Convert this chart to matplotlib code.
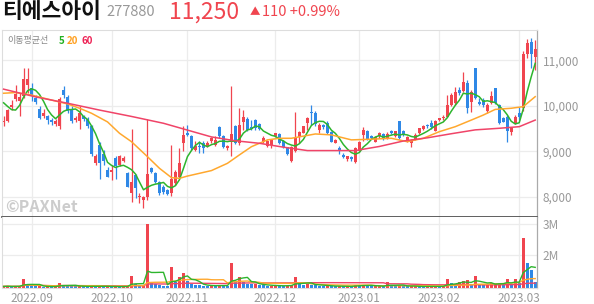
import numpy as np
import pandas as pd
import matplotlib
matplotlib.use("Agg")
import matplotlib.pyplot as plt

plt.rcParams['font.family'] = ['Noto Sans CJK KR', 'DejaVu Sans']

# daily candles, 2022-08-23 .. 2023-03-08 (index = trading day)
opens = [9640, 9660, 9980, 10150, 10100, 10210, 10460, 10400, 10180, 9930,
         9770, 9780, 9700, 9600, 9560, 10350, 10200, 9920, 9690, 9660,
         9780, 9720, 9560, 8740, 9140, 8940, 8590, 8540, 8850, 8700,
         8800, 8520, 8080, 8480, 7990, 7935, 8010, 8630, 8535, 8330,
         8220, 8150, 8080, 8300, 8450, 9180, 9410, 9330, 9030, 9110,
         9180, 9120, 9220, 9150, 9546, 9340, 9070, 9216, 9560, 9195,
         9656, 9708, 9532, 9693, 9605, 9216, 9120, 9140, 9340, 9385,
         9238, 9092, 8800, 9000, 9312, 9414, 9620, 9876, 9840, 9473,
         9580, 9635, 9436, 9195, 9070, 8923, 8828, 8870, 8777, 9018,
         9363, 9458, 9340, 9216, 9330, 9380, 9290, 9450, 9330, 9660,
         9440, 9220, 9180, 9270, 9400, 9490, 9580, 9620, 9460, 9690,
         9740, 9766, 10022, 10059, 10352, 10338, 10499, 10096, 10829, 10096,
         10130, 9898, 10074, 10389, 10022, 9730, 9766, 9436, 9634, 9840,
         9950, 11150, 11400, 11080]
highs = [9770, 9930, 10130, 10460, 10280, 10830, 10830, 10500, 10250, 9990,
         9930, 9800, 9740, 9720, 10200, 10430, 10250, 9990, 9790, 10000,
         9800, 9750, 9580, 8950, 9200, 9030, 8650, 8700, 8890, 8920,
         8900, 8540, 9500, 8510, 8080, 8020, 9720, 8650, 8560, 8360,
         8260, 8180, 9150, 8600, 9080, 9550, 9580, 9360, 9220, 9220,
         9220, 9230, 9310, 9330, 9560, 9360, 9140, 10440, 9580, 9950,
         9913, 9760, 9700, 9710, 9620, 9330, 9260, 9270, 9410, 9400,
         9250, 9100, 9110, 9877, 9460, 9570, 9750, 10022, 9900, 9620,
         9600, 9660, 9450, 9280, 9110, 8960, 8910, 8890, 9090, 9240,
         9540, 9470, 9360, 9340, 9420, 9400, 9420, 9480, 9460, 9680,
         9480, 9330, 9280, 9400, 9520, 9580, 9600, 9690, 9690, 9740,
         9800, 10242, 10280, 10420, 10420, 10755, 10570, 10350, 10845, 10170,
         10170, 10060, 10338, 10400, 10040, 9760, 9800, 9540, 9800, 9986,
         11200, 11480, 11500, 11450]
lows = [9560, 9640, 9910, 10120, 9770, 10170, 10280, 10100, 10050, 9710,
        9730, 9600, 9580, 9560, 9500, 10170, 9850, 9630, 9650, 9500,
        9680, 9520, 8900, 8700, 8390, 8700, 8440, 8380, 8400, 8670,
        8760, 8210, 7900, 7970, 7860, 7750, 7930, 8520, 8300, 8040,
        8060, 8040, 8020, 8260, 8400, 9000, 9330, 9030, 9000, 8960,
        8960, 9090, 9180, 9120, 9300, 9070, 9040, 8900, 9170, 9150,
        9480, 9460, 9470, 9470, 9470, 9190, 9100, 9080, 9320, 9160,
        9080, 8930, 8775, 8980, 9180, 9400, 9480, 9583, 9560, 9400,
        9500, 9380, 9200, 9180, 8940, 8850, 8800, 8800, 8755, 9000,
        9230, 9250, 9270, 9200, 9300, 9250, 9280, 9380, 9320, 9280,
        9330, 9200, 9100, 9250, 9380, 9470, 9520, 9500, 9450, 9670,
        9690, 9760, 10010, 10020, 10240, 10310, 9855, 9876, 10150, 10020,
        9980, 9840, 10040, 10040, 9600, 9640, 9216, 9360, 9600, 9700,
        9900, 11050, 10830, 10800]
closes = [9680, 9910, 10020, 10260, 10200, 10590, 10600, 10240, 10090, 9730,
          9850, 9700, 9640, 9680, 10150, 10240, 9880, 9660, 9740, 9840,
          9720, 9560, 8940, 8900, 8740, 8780, 8450, 8600, 8670, 8900,
          8860, 8230, 8340, 8190, 8020, 8010, 8505, 8560, 8320, 8095,
          8120, 8070, 8400, 8560, 8750, 9365, 9360, 9070, 9120, 9090,
          9070, 9180, 9290, 9250, 9330, 9090, 9120, 9384, 9180, 9583,
          9752, 9473, 9488, 9510, 9488, 9290, 9240, 9250, 9400, 9180,
          9092, 8945, 9092, 9290, 9436, 9560, 9730, 9840, 9605, 9583,
          9540, 9400, 9216, 9253, 9033, 8870, 8900, 8828, 9070, 9216,
          9473, 9268, 9290, 9326, 9400, 9280, 9380, 9410, 9440, 9300,
          9360, 9310, 9240, 9363, 9510, 9560, 9550, 9530, 9670, 9730,
          9760, 10022, 10242, 10316, 10280, 10535, 9950, 10316, 10169, 10044,
          10020, 10022, 10228, 10059, 9634, 9656, 9458, 9510, 9766, 9766,
          11150, 11380, 11140, 11250]
# volume, millions of shares (axis of the reference does not start at zero)
volumes = [1.01, 1.02, 1.00, 1.01, 1.02, 1.23, 1.09, 1.02, 1.01, 1.01,
           1.00, 1.01, 1.00, 1.00, 1.13, 1.04, 1.03, 1.02, 1.01, 1.02,
           1.01, 1.00, 1.03, 1.01, 1.02, 1.00, 1.01, 1.00, 1.01, 1.00,
           1.01, 1.02, 1.35, 1.08, 1.02, 1.03, 2.99, 1.14, 1.08, 1.04,
           1.03, 1.02, 1.63, 1.14, 1.32, 1.45, 1.17, 1.10, 1.06, 1.05,
           1.03, 1.02, 1.04, 1.03, 1.06, 1.04, 1.02, 1.74, 1.16, 1.32,
           1.16, 1.10, 1.08, 1.09, 1.06, 1.04, 1.02, 1.03, 1.05, 1.03,
           1.02, 1.03, 1.06, 1.30, 1.08, 1.06, 1.09, 1.07, 1.05, 1.03,
           1.02, 1.03, 1.02, 1.01, 1.02, 1.01, 1.01, 1.00, 1.07, 1.05,
           1.06, 1.03, 1.01, 1.02, 1.02, 1.01, 1.14, 1.04, 1.02, 1.05,
           1.02, 1.01, 1.01, 1.02, 1.01, 1.00, 1.01, 1.01, 1.02, 1.01,
           1.01, 1.23, 1.11, 1.08, 1.14, 1.19, 1.20, 1.07, 1.35, 1.07,
           1.05, 1.06, 1.11, 1.12, 1.13, 1.05, 1.25, 1.06, 1.25, 1.11,
           2.56, 1.74, 1.52, 1.14]

# moving averages (the window reaches before the first candle)
ma5_head = [10070, 9990, 9920, 9910]
ma20_idx = [0, 3, 7, 12, 16, 19, 22, 26, 29, 32, 36, 39, 42, 44, 46, 49, 52,
            56, 59, 62, 66, 69, 72, 78, 82, 87, 92, 97, 101, 105, 109, 113,
            117, 120, 123, 127, 130, 133]
ma20_val = [10280, 10295, 10240, 10130, 10045, 9950, 9840, 9650, 9400, 9215,
            8885, 8630, 8425, 8410, 8460, 8520, 8580, 8740, 8925, 9105, 9255,
            9290, 9290, 9385, 9365, 9255, 9270, 9290, 9215, 9290, 9435, 9545,
            9690, 9800, 9925, 9950, 9985, 10205]
ma60_idx = [0, 8, 16, 24, 32, 40, 46, 52, 58, 64, 70, 76, 82, 88, 94, 100,
            106, 112, 118, 124, 129, 133]
ma60_val = [10370, 10200, 10060, 9910, 9770, 9620, 9470, 9320, 9235, 9180,
            9095, 9020, 9020, 9020, 9110, 9230, 9300, 9390, 9475, 9510, 9545,
            9690]

month_idx = [7, 27, 46, 68, 89, 109, 129]
month_labels = ['2022.09', '2022.10', '2022.11', '2022.12', '2023.01',
                '2023.02', '2023.03']
price_ticks = [8000, 9000, 10000, 11000]
vol_ticks = [2, 3]

RED = '#f0454f'
BLUE = '#2f88e6'
GREEN = '#2db52d'
ORANGE = '#ffa82e'
PINK = '#f04468'
GRID = '#ececec'
TXT = '#999999'

W, H = 594, 304
fig = plt.figure(figsize=(W / 100, H / 100), dpi=100)
ax = fig.add_axes([2 / W, 1 - 217 / H, 535 / W, 187 / H])
axv = fig.add_axes([2 / W, 1 - 288 / H, 535 / W, 71 / H], sharex=ax)

o = np.array(opens, float)
h = np.array(highs, float)
l = np.array(lows, float)
c = np.array(closes, float)
v = np.array(volumes, float)
idx = np.arange(len(c))

# candles
col = np.where(c >= o, RED, BLUE)
ax.vlines(idx, l, h, color=col, lw=0.9, zorder=2)
body = np.maximum(np.abs(c - o), 22)
ax.bar(idx, body, bottom=np.minimum(o, c), width=0.75, color=col,
       linewidth=0, zorder=2)

# moving averages
ma5 = pd.Series(c).rolling(5).mean().to_numpy()
ma5[:4] = ma5_head
ax.plot(idx, ma5, color=GREEN, lw=1.1, zorder=3)
ax.plot(ma20_idx, ma20_val, color=ORANGE, lw=1.1, zorder=3)
ax.plot(ma60_idx, ma60_val, color=PINK, lw=1.1, zorder=3)

ax.set_ylim(7560, 11670)
ax.set_xlim(-0.4, 133.45)
ax.set_yticks(price_ticks)
ax.set_yticklabels([f'{t:,}' for t in price_ticks])

# volume bars: red when volume rose from the day before
prev = np.concatenate([[v[0]], v[:-1]])
vcol = np.where(v >= prev, RED, BLUE)
axv.bar(idx, v, width=0.75, color=vcol, linewidth=0, zorder=2)
for k, cc in [(60, PINK), (20, ORANGE), (5, GREEN)]:
    axv.plot(idx, pd.Series(v).rolling(k, min_periods=1).mean(), color=cc,
             lw=1.0, zorder=3)
axv.set_ylim(0.96, 3.21)
axv.set_yticks(vol_ticks)
axv.set_yticklabels([f'{t}M' for t in vol_ticks])

for a in (ax, axv):
    a.set_xticks(month_idx)
    a.grid(True, color=GRID, lw=0.9, zorder=0)
    a.set_axisbelow(True)
    a.yaxis.tick_right()
    a.tick_params(axis='both', length=0, labelsize=8.5, labelcolor=TXT, pad=4)
    for s in ('left', 'top', 'bottom'):
        a.spines[s].set_color('#dddddd')
        a.spines[s].set_linewidth(0.8)
    a.spines['right'].set_color('#aaaaaa')
    a.spines['right'].set_linewidth(0.9)
axv.set_xticklabels(month_labels)
ax.tick_params(axis='x', labelbottom=False)
ax.spines['bottom'].set_color('#444444')
ax.spines['bottom'].set_linewidth(1.2)
axv.spines['top'].set_visible(False)
axv.tick_params(axis='x', pad=3)

# header
fig.text(2 / W, 1 - 12 / H, '티에스아이', fontsize=15.5, fontweight='bold',
         color='#111111', va='center')
fig.text(106 / W, 1 - 12 / H, '277880', fontsize=10.5, color='#999999',
         va='center')
fig.text(169 / W, 1 - 12 / H, '11,250', fontsize=16.5, color=RED, va='center')
fig.text(250 / W, 1 - 12 / H, '▲', fontsize=7.5, color=RED, va='center')
fig.text(262 / W, 1 - 12 / H, '110 +0.99%', fontsize=10.5, color=RED,
         va='center')

# MA legend
fig.text(7 / W, 1 - 41 / H, '이동평균선', fontsize=6.5, color='#888888',
         va='center')
fig.text(59 / W, 1 - 41 / H, '5', fontsize=7, color='#22b022', va='center',
         fontweight='bold')
fig.text(67 / W, 1 - 41 / H, '20', fontsize=7, color='#ffa020', va='center',
         fontweight='bold')
fig.text(82 / W, 1 - 41 / H, '60', fontsize=7, color='#ee2255', va='center',
         fontweight='bold')

# watermark
fig.text(5 / W, 1 - 207 / H, '©PAXNet', fontsize=11.5, fontweight='bold',
         color='#cccccc', va='center')

fig.savefig('out.png', dpi=100)
